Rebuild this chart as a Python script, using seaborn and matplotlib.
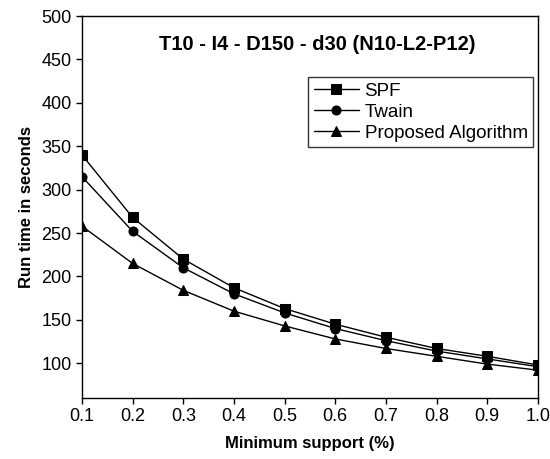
import matplotlib
matplotlib.use("Agg")
import matplotlib.pyplot as plt
import seaborn as sns
import pandas as pd

# ── Data ─────────────────────────────────────────────────────────────────────
support = [0.1, 0.2, 0.3, 0.4, 0.5, 0.6, 0.7, 0.8, 0.9, 1.0]
spf      = [340, 268, 220, 187, 163, 145, 130, 117, 108, 98]
twain    = [315, 252, 210, 180, 158, 140, 126, 114, 105, 96]
proposed = [258, 215, 184, 160, 143, 128, 117, 108, 99, 92]

series = ["SPF", "Twain", "Proposed Algorithm"]
markers = {"SPF": "s", "Twain": "o", "Proposed Algorithm": "^"}

df = pd.DataFrame({
    "support": support * 3,
    "time": spf + twain + proposed,
    "algo": [s for s in series for _ in support],
})

# ── Style ────────────────────────────────────────────────────────────────────
sns.set_style("ticks")
plt.rcParams["font.family"] = ["Liberation Sans", "DejaVu Sans"]
plt.rcParams["text.color"] = "black"
plt.rcParams["axes.labelcolor"] = "black"

fig = plt.figure(figsize=(5.5, 4.59), dpi=100)
ax = fig.add_axes([0.149, 0.133, 0.829, 0.832])

sns.lineplot(data=df, x="support", y="time", hue="algo", style="algo",
             markers=markers, dashes=False,
             palette=["black"] * 3, markersize=6.5, linewidth=1.0,
             markeredgecolor="black", ax=ax)

ax.set_xlim(0.1, 1.0)
ax.set_ylim(60, 500)
ax.set_xticks(support)
ax.set_xticklabels([f"{v:.1f}" for v in support])
ax.set_yticks(range(100, 501, 50))
ax.tick_params(axis="both", labelsize=13, direction="out", length=4,
               width=1, colors="black", top=False, right=False)
for sp in ax.spines.values():
    sp.set_visible(True)
    sp.set_color("black")
    sp.set_linewidth(1)

ax.set_xlabel("Minimum support (%)", fontsize=12, fontweight="bold", labelpad=8)
ax.set_ylabel("Run time in seconds", fontsize=12, fontweight="bold", labelpad=5)

ax.text(0.517, 0.925, "T10 - I4 - D150 - d30 (N10-L2-P12)", transform=ax.transAxes,
        ha="center", va="center", fontsize=14.5, fontweight="bold")

leg = ax.legend(loc="upper right", bbox_to_anchor=(0.99, 0.84), frameon=True,
                fancybox=False, edgecolor="black", fontsize=13.5, handlelength=2.4,
                handletextpad=0.3, borderpad=0.3, labelspacing=0.2,
                borderaxespad=0)
leg.get_frame().set_linewidth(1)
for t in leg.get_texts():
    t.set_color("black")

fig.savefig("out.png", dpi=100)
